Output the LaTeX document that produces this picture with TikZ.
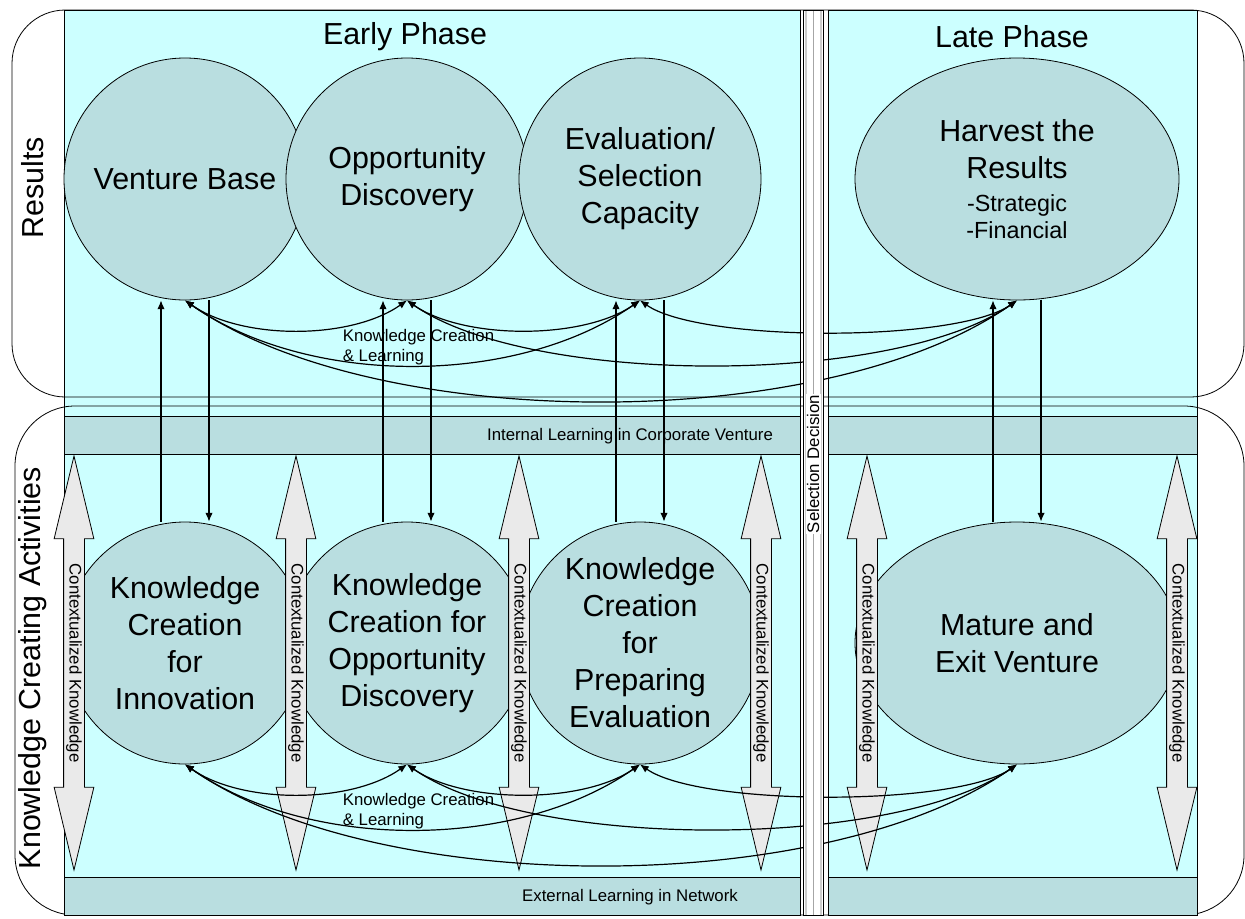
\documentclass[tikz,border=0pt]{standalone}
\usepackage{fontspec}
\setmainfont{Liberation Sans}
\definecolor{phasecyan}{HTML}{CCFFFF}
\definecolor{resultteal}{RGB}{185,222,224}
\definecolor{ctxgray}{RGB}{234,234,234}
\usetikzlibrary{shapes.geometric, shapes.arrows, arrows.meta, positioning, calc}
\newcommand{\hrsub}{\fontsize{17.5}{20}\selectfont}

\begin{document}
\begin{tikzpicture}[x=0.75pt, y=0.75pt, line width=0.6pt,
  bigtext/.style={font=\fontsize{22.8}{27.75}\selectfont},
  smalltext/.style={font=\fontsize{12.6}{15}\selectfont},
  result/.style={circle, draw, fill=resultteal, inner sep=0pt, minimum size=181.5pt, align=center, bigtext},
  ctx/.style={double arrow, draw, fill=ctxgray, rotate=-90, double arrow tip angle=27, double arrow head extend=7.1pt, minimum height=310.5pt, inner xsep=0pt, inner ysep=1.6pt, text height=9.2pt, text depth=2.6pt, smalltext},
  vlink/.style={-{Latex[length=6.5pt,width=5.5pt]}, line width=0.9pt},
  kcl/.style={{Latex[length=6.5pt,width=5.5pt]}-{Latex[length=6.5pt,width=5.5pt]}, line width=0.9pt}]
  \useasboundingbox (0,0) rectangle (1245,-918);

  % phase panels and brackets
  \filldraw[fill=phasecyan] (64,-10) rectangle (800,-915);
  \filldraw[fill=phasecyan] (828,-10) rectangle (1197,-915);
  \draw[rounded corners=40pt] (12,-10) rectangle (1244,-397);
  \draw[rounded corners=45pt] (15,-406) rectangle (1244,-915);
  \filldraw[fill=resultteal] (64,-416) rectangle (800,-454);
  \filldraw[fill=resultteal] (828,-416) rectangle (1197,-454);
  \filldraw[fill=resultteal] (64,-877) rectangle (800,-915);
  \filldraw[fill=resultteal] (828,-877) rectangle (1197,-915);

  \node[rotate=90, bigtext] (results) at (33,-188) {Results};
  \node[rotate=90, bigtext] (kca) at (33,-668) {Knowledge Creating Activities};
  \node[bigtext] (early) at (405,-37) {Early Phase};
  \node[bigtext] (late) at (1012,-37) {Late Phase};
  \node[smalltext] (intl) at (630,-436) {Internal Learning in Corporate Venture};
  \node[smalltext] (extl) at (630,-897) {External Learning in Network};

  % results
  \node[result] (vb) at (185,-179) {Venture Base};
  \node[result] (od) at (407,-179) {Opportunity\\Discovery};
  \node[result] (es) at (640,-179) {Evaluation/\\Selection\\Capacity};
  \node[result, ellipse, minimum width=243pt] (hr) at (1017,-179) {Harvest the\\Results\\[-3pt]{\hrsub -Strategic}\\[-7.5pt]{\hrsub -Financial}};

  % knowledge creating activities
  \node[result] (kci) at (185,-643) {Knowledge\\Creation\\for\\Innovation};
  \node[result] (kcod) at (407,-643) {Knowledge\\Creation for\\Opportunity\\Discovery};
  \node[result] (kcpe) at (640,-643) {Knowledge\\Creation\\for\\Preparing\\Evaluation};
  \node[result, ellipse, minimum width=243pt] (mev) at (1017,-643) {Mature and\\Exit Venture};

  \node[ctx] (ctxa) at (74,-663) {Contextualized Knowledge};
  \node[ctx] (ctxb) at (296,-663) {Contextualized Knowledge};
  \node[ctx] (ctxc) at (519,-663) {Contextualized Knowledge};
  \node[ctx] (ctxd) at (761,-663) {Contextualized Knowledge};
  \node[ctx] (ctxe) at (867,-663) {Contextualized Knowledge};
  \node[ctx] (ctxf) at (1177,-663) {Contextualized Knowledge};

  % up and down links
  \draw[vlink] ([xshift=-18pt]kci.north) -- ([xshift=-18pt]vb.south);
  \draw[vlink] ([xshift=18pt]vb.south) -- ([xshift=18pt]kci.north);
  \draw[vlink] ([xshift=-18pt]kcod.north) -- ([xshift=-18pt]od.south);
  \draw[vlink] ([xshift=18pt]od.south) -- ([xshift=18pt]kcod.north);
  \draw[vlink] ([xshift=-18pt]kcpe.north) -- ([xshift=-18pt]es.south);
  \draw[vlink] ([xshift=18pt]es.south) -- ([xshift=18pt]kcpe.north);
  \draw[vlink] ([xshift=-18pt]mev.north) -- ([xshift=-18pt]hr.south);
  \draw[vlink] ([xshift=18pt]hr.south) -- ([xshift=18pt]mev.north);

  % knowledge creation and learning
  \draw[kcl] (vb.south) to[out=-35, in=-145, looseness=0.8] (od.south);
  \draw[kcl] (od.south) to[out=-35, in=-145, looseness=0.76] (es.south);
  \draw[kcl] (vb.south) to[out=-35, in=-145, looseness=0.85] (es.south);
  \draw[kcl] (es.south) to[out=-35, in=-145, looseness=0.5] (hr.south);
  \draw[kcl] (od.south) to[out=-35, in=-145, looseness=0.63] (hr.south);
  \draw[kcl] (vb.south) to[out=-35, in=-145, looseness=0.72] (hr.south);
  \node[smalltext, align=left, anchor=west] (kcltop) at (338,-347) {Knowledge Creation\\\& Learning};

  \draw[kcl] (kci.south) to[out=-35, in=-145, looseness=0.8] (kcod.south);
  \draw[kcl] (kcod.south) to[out=-35, in=-145, looseness=0.76] (kcpe.south);
  \draw[kcl] (kci.south) to[out=-35, in=-145, looseness=0.85] (kcpe.south);
  \draw[kcl] (kcpe.south) to[out=-35, in=-145, looseness=0.5] (mev.south);
  \draw[kcl] (kcod.south) to[out=-35, in=-145, looseness=0.63] (mev.south);
  \draw[kcl] (kci.south) to[out=-35, in=-145, looseness=0.72] (mev.south);
  \node[smalltext, align=left, anchor=west] (kclbot) at (338,-811) {Knowledge Creation\\\& Learning};

  % selection decision
  \fill[white] (803,-10) rectangle (823,-915);
  \fill[black!20] (804.5,-10) rectangle (806.5,-915);
  \fill[black!20] (819.5,-10) rectangle (821.5,-915);
  \draw[black!35, line width=0.4pt] (813,-10) -- (813,-915);
  \draw (803,-10) rectangle (823,-915);
  \node[rotate=90, fill=white, inner sep=1pt, smalltext] (sel) at (813,-464) {Selection Decision};
\end{tikzpicture}
\end{document}
